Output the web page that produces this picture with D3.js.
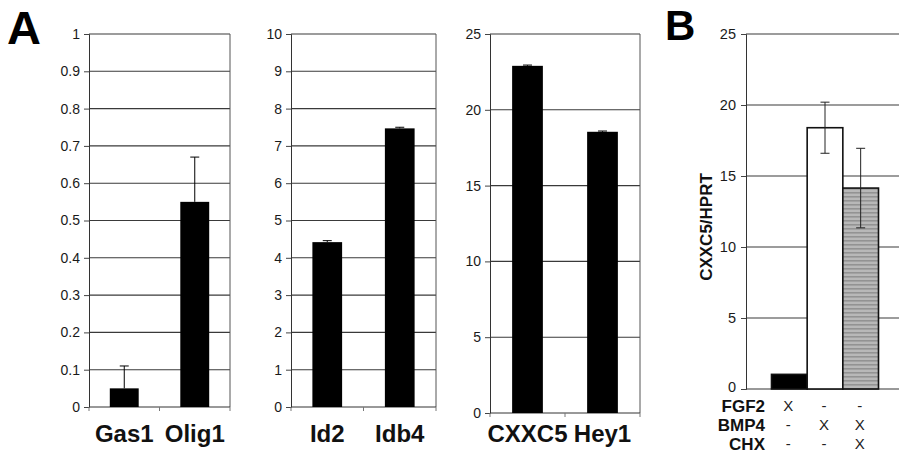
<!DOCTYPE html>
<html>
<head>
<meta charset="utf-8">
<script src="https://cdn.jsdelivr.net/npm/d3@7"></script>
<style>
  html, body { margin: 0; padding: 0; background: #fff; }
  svg { display: block; }
  text { font-family: "Liberation Sans", Arial, Helvetica, sans-serif; }
</style>
</head>
<body>
<svg id="chart" width="899" height="453"></svg>
<script>
// ---------- DATA ----------
const a1Categories = ["Gas1", "Olig1"];
const a1Values = [0.05, 0.55];
const a1Errors = [0.06, 0.12];
const a1Ticks = [0, 0.1, 0.2, 0.3, 0.4, 0.5, 0.6, 0.7, 0.8, 0.9, 1];

const a2Categories = ["Id2", "Idb4"];
const a2Values = [4.42, 7.47];
const a2Errors = [0.04, 0.03];
const a2Ticks = [0, 1, 2, 3, 4, 5, 6, 7, 8, 9, 10];

const a3Categories = ["CXXC5", "Hey1"];
const a3Values = [22.9, 18.55];
const a3Errors = [0.05, 0.05];
const a3Ticks = [0, 5, 10, 15, 20, 25];

const bCategories = ["FGF2", "BMP4", "BMP4+CHX"];
const bValues = [1.03, 18.4, 14.15];
const bErrors = [0, 1.8, 2.8];
const bTicks = [0, 5, 10, 15, 20, 25];
const bAxisTitle = "CXXC5/HPRT";
const bRowLabels = ["FGF2", "BMP4", "CHX"];
const bRowMarks = [["X", "-", "-"], ["-", "X", "X"], ["-", "-", "X"]];

// ---------- DRAW ----------
const svg = d3.select("#chart");
const fmt = d3.format("~g");

const defs = svg.append("defs");
const pat = defs.append("pattern").attr("id", "stripes")
  .attr("patternUnits", "userSpaceOnUse").attr("width", 8).attr("height", 4);
pat.append("rect").attr("width", 8).attr("height", 4).attr("fill", "#b8b8b8");
pat.append("rect").attr("y", 0).attr("width", 8).attr("height", 1.6).attr("fill", "#939393");

function styleAxis(ya, size) {
  ya.attr("font-size", null).attr("font-family", null);
  ya.select(".domain").attr("stroke", "#333");
  ya.selectAll(".tick line").attr("stroke", "#444");
  ya.selectAll(".tick text").style("font-size", size + "px").attr("fill", "#1a1a1a")
    .style("font-family", "'Liberation Sans', Arial, sans-serif");
}

function drawA(cfg) {
  const x = d3.scaleBand().domain(cfg.cats).range([cfg.x0, cfg.x1]).padding(0);
  const y = d3.scaleLinear().domain([0, cfg.max]).range([cfg.y0, cfg.y1]);
  const g = svg.append("g");

  g.selectAll("line.grid").data(cfg.ticks.filter(t => t > 0)).join("line")
    .attr("x1", cfg.x0).attr("x2", cfg.x1)
    .attr("y1", d => y(d)).attr("y2", d => y(d))
    .attr("stroke", "#3a3a3a").attr("stroke-width", 1.1);
  g.append("line").attr("x1", cfg.x1).attr("x2", cfg.x1)
    .attr("y1", y(cfg.max)).attr("y2", y(0))
    .attr("stroke", "#555").attr("stroke-width", 1);

  const ya = g.append("g").attr("transform", `translate(${cfg.x0},0)`)
    .call(d3.axisLeft(y).tickValues(cfg.ticks).tickFormat(fmt).tickSize(5).tickPadding(4));
  styleAxis(ya, 14);

  g.append("line").attr("x1", cfg.x0).attr("x2", cfg.x1)
    .attr("y1", y(0)).attr("y2", y(0)).attr("stroke", "#333");
  const edges = cfg.cats.map(c => x(c)).concat([cfg.x1]);
  g.selectAll("line.xt").data(edges).join("line")
    .attr("x1", d => d).attr("x2", d => d)
    .attr("y1", y(0)).attr("y2", y(0) + 4).attr("stroke", "#777");

  const bw = x.bandwidth() * 0.41;
  g.selectAll("rect.bar").data(cfg.cats).join("rect")
    .attr("x", (d) => x(d) + x.bandwidth() / 2 - bw / 2)
    .attr("width", bw)
    .attr("y", (d, i) => y(cfg.vals[i]))
    .attr("height", (d, i) => y(0) - y(cfg.vals[i]))
    .attr("fill", "#000");
  cfg.cats.forEach((c, i) => {
    const cx = x(c) + x.bandwidth() / 2;
    const top = y(cfg.vals[i] + cfg.errs[i]);
    g.append("line").attr("x1", cx).attr("x2", cx)
      .attr("y1", y(cfg.vals[i])).attr("y2", top).attr("stroke", "#000").attr("stroke-width", 1);
    g.append("line").attr("x1", cx - 4.5).attr("x2", cx + 4.5)
      .attr("y1", top).attr("y2", top).attr("stroke", "#000").attr("stroke-width", 1);
  });
  g.selectAll("text.cat").data(cfg.cats).join("text")
    .attr("x", d => x(d) + x.bandwidth() / 2)
    .attr("y", 442)
    .attr("text-anchor", "middle")
    .attr("font-size", 24).attr("font-weight", "bold").attr("fill", "#111")
    .text(d => d);
}

drawA({ cats: a1Categories, vals: a1Values, errs: a1Errors, ticks: a1Ticks, max: 1,
        x0: 89, x1: 230, y0: 407, y1: 34 });
drawA({ cats: a2Categories, vals: a2Values, errs: a2Errors, ticks: a2Ticks, max: 10,
        x0: 291, x1: 436, y0: 407, y1: 34 });
drawA({ cats: a3Categories, vals: a3Values, errs: a3Errors, ticks: a3Ticks, max: 25,
        x0: 490, x1: 640, y0: 413, y1: 34 });

// ---------- PANEL B ----------
(function () {
  const x0 = 746, x1 = 905;
  const y = d3.scaleLinear().domain([0, 25]).range([389, 34]);
  const x = d3.scaleBand().domain(bCategories).range([771.5, 878.5]).padding(0);
  const g = svg.append("g");

  g.selectAll("line.grid").data(bTicks.filter(t => t > 0)).join("line")
    .attr("x1", x0).attr("x2", x1)
    .attr("y1", d => y(d)).attr("y2", d => y(d))
    .attr("stroke", "#3a3a3a").attr("stroke-width", 1.1);
  g.append("line").attr("x1", x0).attr("x2", x1)
    .attr("y1", y(0)).attr("y2", y(0)).attr("stroke", "#333");

  const ya = g.append("g").attr("transform", `translate(${x0},0)`)
    .call(d3.axisLeft(y).tickValues(bTicks).tickFormat(fmt).tickSize(5).tickPadding(5));
  styleAxis(ya, 14.5);
  ya.selectAll(".tick text").filter(d => d === 0).attr("dy", "0.2em");

  const fills = ["#000", "#fff", "url(#stripes)"];
  g.selectAll("rect.bar").data(bCategories).join("rect")
    .attr("x", d => x(d)).attr("width", x.bandwidth())
    .attr("y", (d, i) => y(bValues[i]))
    .attr("height", (d, i) => y(0) - y(bValues[i]))
    .attr("fill", (d, i) => fills[i])
    .attr("stroke", "#111").attr("stroke-width", 1.6);

  bCategories.forEach((c, i) => {
    if (!bErrors[i]) return;
    const cx = x(c) + x.bandwidth() / 2;
    const t = y(bValues[i] + bErrors[i]), b = y(bValues[i] - bErrors[i]);
    g.append("line").attr("x1", cx).attr("x2", cx).attr("y1", t).attr("y2", b)
      .attr("stroke", "#222").attr("stroke-width", 1);
    [t, b].forEach(v => g.append("line").attr("x1", cx - 4.5).attr("x2", cx + 4.5)
      .attr("y1", v).attr("y2", v).attr("stroke", "#222").attr("stroke-width", 1));
  });

  g.append("text").attr("transform", "translate(712,227) rotate(-90)")
    .attr("text-anchor", "middle").attr("font-size", 17).attr("font-weight", "bold")
    .attr("fill", "#111").text(bAxisTitle);

  const rowY = [411.5, 431, 450];
  bRowLabels.forEach((lab, r) => {
    g.append("text").attr("x", 765).attr("y", rowY[r]).attr("text-anchor", "end")
      .attr("font-size", 17).attr("font-weight", "bold").attr("fill", "#111").text(lab);
    bCategories.forEach((c, j) => {
      g.append("text").attr("x", x(c) + x.bandwidth() / 2 - 1).attr("y", rowY[r] - 1)
        .attr("text-anchor", "middle").attr("font-size", 15).attr("fill", "#222")
        .text(bRowMarks[r][j]);
    });
  });
})();

svg.append("text").attr("x", 7).attr("y", 44).attr("font-size", 47).attr("font-weight", "bold")
  .attr("fill", "#000").text("A");
svg.append("text").attr("x", 665).attr("y", 40).attr("font-size", 42).attr("font-weight", "bold")
  .attr("fill", "#000").text("B");
</script>
</body>
</html>
